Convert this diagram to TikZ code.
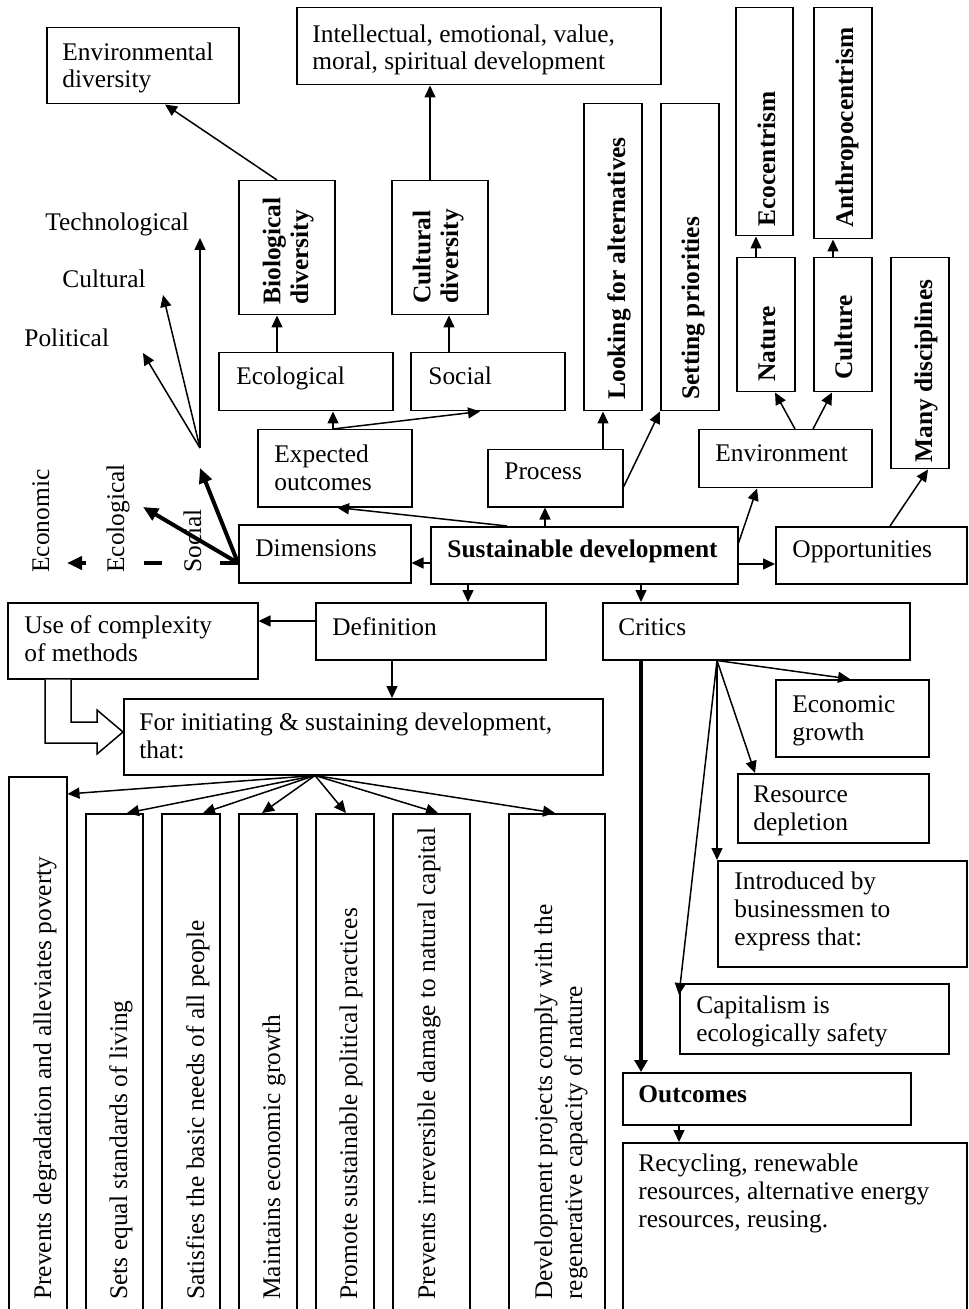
\documentclass[tikz,border=0pt]{standalone}
\usepackage{fontspec}
\setmainfont{Liberation Serif}
\usetikzlibrary{arrows.meta}
\newcommand\fsz{\fontsize{12.7pt}{13.8pt}\selectfont}
\tikzset{
  bx/.style={draw, line width=0.75pt, inner sep=0pt, anchor=north west},
  sz/.style 2 args={minimum width=#1*0.5pt, minimum height=#2*0.5pt},
  tx/.style={inner sep=0pt, anchor=base west, align=left, font=\fsz},
  bt/.style={inner sep=0pt, anchor=base west, align=left, font=\fsz\bfseries},
  rt/.style={tx, rotate=90},
  rb/.style={bt, rotate=90},
  ar/.style={line width=0.75pt, -{Triangle[length=6pt,width=5.5pt]}},
  tk/.style={line width=2pt, -{Triangle[length=7.5pt,width=6.5pt]}},
  tkc/.style={line width=2pt, -{Triangle[length=6pt,width=6.5pt]}},
  hollow/.style={line width=0.75pt, fill=white},
}
\begin{document}
\begin{tikzpicture}[x=0.5pt,y=-0.5pt]
\useasboundingbox (0,0) rectangle (968,1309);
\clip (0,0) rectangle (968,1309);

% boxes
\node[bx, sz={192}{76}] (envdiv) at (46,27) {};
\node[bx, sz={364}{77}] (intel) at (296,7) {};
\node[bx, sz={96}{134}] (bio) at (238,180) {};
\node[bx, sz={96}{134}] (culdiv) at (391,180) {};
\node[bx, sz={58}{307}] (looking) at (583,103) {};
\node[bx, sz={58}{307}] (setting) at (660,103) {};
\node[bx, sz={57}{228}] (ecocent) at (735,7) {};
\node[bx, sz={58}{231}] (anthro) at (813,7) {};
\node[bx, sz={58}{134}] (nature) at (736,257) {};
\node[bx, sz={58}{134}] (culture) at (813,257) {};
\node[bx, sz={58}{211}] (many) at (890,257) {};
\node[bx, sz={174}{58}] (ecol) at (218,352) {};
\node[bx, sz={154}{58}] (social) at (410,352) {};
\node[bx, sz={154}{77}] (expected) at (257,429) {};
\node[bx, sz={135}{57}] (process) at (487,449) {};
\node[bx, sz={173}{58}] (environment) at (698,429) {};
\node[bx, sz={172}{58}] (dims) at (238,524) {};
\node[bx, sz={307}{57}] (sd) at (430,526) {};
\node[bx, sz={191}{57}] (opp) at (775,526) {};
\node[bx, sz={250}{76}] (usec) at (7,602) {};
\node[bx, sz={230}{57}] (defn) at (315,602) {};
\node[bx, sz={307}{57}] (critics) at (602,602) {};
\node[bx, sz={479}{76}] (forinit) at (123,698) {};
\node[bx, sz={153}{77}] (econg) at (775,679) {};
\node[bx, sz={191}{69}] (resdep) at (737,773) {};
\node[bx, sz={249}{106}] (introd) at (717,860) {};
\node[bx, sz={269}{70}] (capit) at (679,983) {};
\node[bx, sz={288}{52}] (outcomes) at (622,1072) {};
\node[bx, sz={344}{200}] (recyc) at (622,1142) {};
\node[bx, sz={58}{560}] (p1) at (8,776) {};
\node[bx, sz={57}{530}] (p2) at (85,813) {};
\node[bx, sz={58}{530}] (p3) at (161,813) {};
\node[bx, sz={58}{530}] (p4) at (238,813) {};
\node[bx, sz={58}{530}] (p5) at (315,813) {};
\node[bx, sz={77}{530}] (p6) at (392,813) {};
\node[bx, sz={96}{530}] (p7) at (508,813) {};

% hollow bent arrow
\draw[hollow] (usec.south -| 45,0) -- (45,743) -- (97,743) -- (97,754)
  -- (forinit.west |- 0,732) -- (97,710) -- (97,722) -- (71,722) -- (usec.south -| 71,0);

% horizontal texts (anchor = baseline of the last line)
\node[tx] (envdiv-t) at (62,88) {Environmental\\diversity};
\node[tx] (intel-t) at (312,70) {Intellectual, emotional, value,\\moral, spiritual development};
\node[tx] (ecol-t) at (236,385) {Ecological};
\node[tx] (social-t) at (428,385) {Social};
\node[tx] (expected-t) at (274,490) {Expected\\outcomes};
\node[tx] (process-t) at (504,480) {Process};
\node[tx] (environment-t) at (715,462) {Environment};
\node[tx] (dims-t) at (255,556) {Dimensions};
\node[bt] (sd-t) at (447,557) {Sustainable development};
\node[tx] (opp-t) at (792,557) {Opportunities};
\node[tx] (usec-t) at (24,661) {Use of complexity\\of methods};
\node[tx] (defn-t) at (332,635) {Definition};
\node[tx] (critics-t) at (618,635) {Critics};
\node[tx] (forinit-t) at (139,758) {For initiating \& sustaining development,\\that:};
\node[tx] (econg-t) at (792,740) {Economic\\growth};
\node[tx] (resdep-t) at (753,830) {Resource\\depletion};
\node[tx] (introd-t) at (734,945) {Introduced by\\businessmen to\\express that:};
\node[tx] (capit-t) at (696,1041) {Capitalism is\\ecologically safety};
\node[bt] (outcomes-t) at (638,1102) {Outcomes};
\node[tx] (recyc-t) at (638,1227) {Recycling, renewable\\resources, alternative energy\\resources, reusing.};
\node[tx] (tech-t) at (45,231) {Technological};
\node[tx] (cult-t) at (62,288) {Cultural};
\node[tx] (pol-t) at (24,347) {Political};

% rotated texts
\node[rb] (bio-t) at (308,305) {Biological\\diversity};
\node[rb] (culdiv-t) at (458,304) {Cultural\\diversity};
\node[rb] (looking-t) at (625,400) {Looking for alternatives};
\node[rb] (setting-t) at (699,400) {Setting priorities};
\node[rb] (ecocent-t) at (775,227) {Ecocentrism};
\node[rb] (anthro-t) at (853,228) {Anthropocentrism};
\node[rb] (nature-t) at (775,382) {Nature};
\node[rb] (culture-t) at (852,380) {Culture};
\node[rb] (many-t) at (932,463) {Many disciplines};
\node[rt] (econ-t) at (49,573) {Economic};
\node[rt] (ecolg-t) at (124,573) {Ecological};
\node[rt] (soc-t) at (201,573) {Social};
\node[rt] (p1-t) at (51,1300) {Prevents degradation and alleviates poverty};
\node[rt] (p2-t) at (127,1300) {Sets equal standards of living};
\node[rt] (p3-t) at (204,1300) {Satisfies the basic needs of all people};
\node[rt] (p4-t) at (280,1300) {Maintains economic growth};
\node[rt] (p5-t) at (357,1300) {Promote sustainable political practices};
\node[rt] (p6-t) at (435,1300) {Prevents irreversible damage to natural capital};
\node[rt, font=\fontsize{12.7pt}{15pt}\selectfont] (p7-t) at (582,1300) {Development projects comply with the\\regenerative capacity of nature};

% free points
\coordinate (fanA) at (200,448);
\coordinate (tipT) at (200,238);
\coordinate (tipC) at (163,295);
\coordinate (tipP) at (143,353);
\coordinate (jS) at (200,468);
\coordinate (jE) at (143,507);
\coordinate (jN) at (67,563);

% upper connectors
\draw[ar] (bio.north -| 277,0) -- (envdiv.south -| 165,0);
\draw[ar] (culdiv.north -| 430,0) -- (intel.south -| 430,0);
\draw[ar] (ecol.north -| 277,0) -- (bio.south -| 277,0);
\draw[ar] (social.north -| 449,0) -- (culdiv.south -| 449,0);
\draw[ar] (expected.north -| 333,0) -- (ecol.south -| 333,0);
\draw[ar] (expected.north -| 333,0) -- (social.south -| 480,0);
\draw[ar] (sd.north -| 507,0) -- (expected.south -| 337,0);
\draw[ar] (sd.north -| 545,0) -- (process.south -| 545,0);
\draw[ar] (process.north -| 603,0) -- (looking.south -| 603,0);
\draw[ar] (process.east |- 0,487) -- (setting.south west);
\draw[ar] (environment.north -| 795,0) -- (nature.south -| 775,0);
\draw[ar] (environment.north -| 813,0) -- (culture.south -| 832,0);
\draw[ar] (nature.north -| 756,0) -- (ecocent.south -| 756,0);
\draw[ar] (culture.north -| 833,0) -- (anthro.south -| 833,0);
\draw[ar] (sd.east |- 0,543) -- (environment.south -| 757,0);
\draw[ar] (sd.east |- 0,564) -- (opp.west |- 0,564);
\draw[ar] (opp.north -| 890,0) -- (many.south -| 928,0);
\draw[ar] (sd.west |- 0,563) -- (dims.east |- 0,563);
\draw[ar] (sd.south -| 468,0) -- (defn.north -| 468,0);
\draw[ar] (sd.south -| 641,0) -- (critics.north -| 641,0);
\draw[ar] (defn.west |- 0,621) -- (usec.east |- 0,621);
\draw[ar] (defn.south -| 392,0) -- (forinit.north -| 392,0);

% dimensions
\draw[tk] (dims.west |- 0,563) -- (jS);
\draw[tk] (dims.west |- 0,563) -- (jE);
\draw[tk, dash pattern=on 9pt off 29pt] (dims.west |- 0,563) -- (jN);
\draw[ar] (fanA) -- (tipT);
\draw[ar] (fanA) -- (tipC);
\draw[ar] (fanA) -- (tipP);

% critics
\draw[tkc] (critics.south -| 641,0) -- (outcomes.north -| 641,0);
\draw[ar] (critics.south -| 717,0) -- (econg.north -| 850,0);
\draw[ar] (critics.south -| 717,0) -- (resdep.north -| 755,0);
\draw[ar] (critics.south -| 717,0) -- (introd.north west);
\draw[ar] (critics.south -| 717,0) -- (capit.west |- 0,995);
\draw[ar] (outcomes.south -| 679,0) -- (recyc.north -| 679,0);

% for initiating fan
\draw[ar] (forinit.south -| 315,0) -- (p1.east |- 0,794);
\draw[ar] (forinit.south -| 315,0) -- (p2.north -| 127,0);
\draw[ar] (forinit.south -| 315,0) -- (p3.north -| 203,0);
\draw[ar] (forinit.south -| 315,0) -- (p4.north -| 262,0);
\draw[ar] (forinit.south -| 315,0) -- (p5.north -| 346,0);
\draw[ar] (forinit.south -| 315,0) -- (p6.north -| 438,0);
\draw[ar] (forinit.south -| 315,0) -- (p7.north -| 555,0);
\end{tikzpicture}
\end{document}
